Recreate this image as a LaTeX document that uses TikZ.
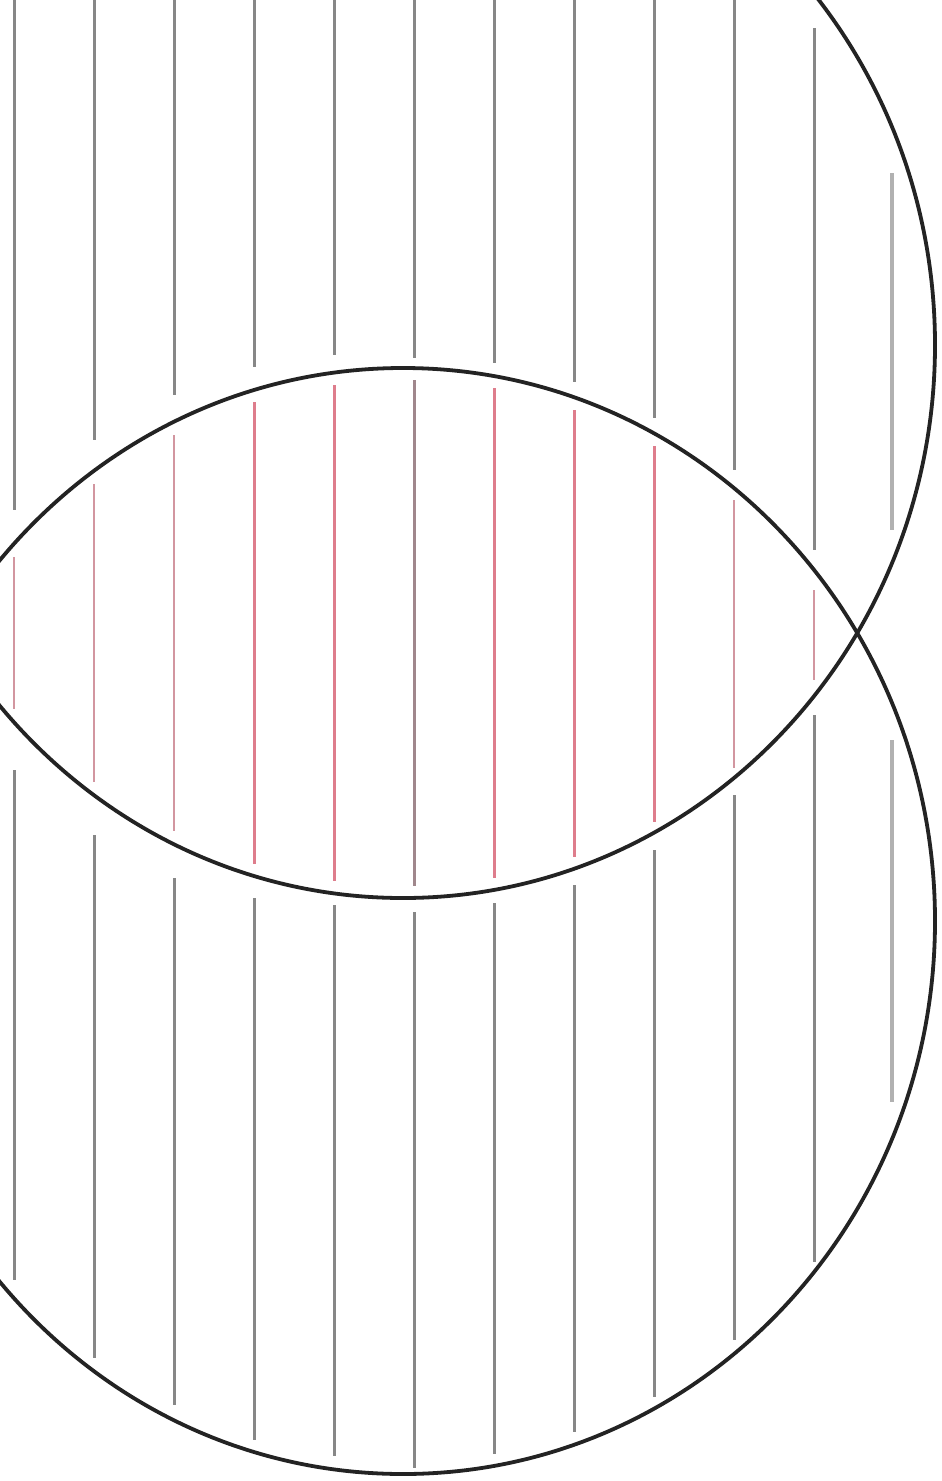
\documentclass[tikz,border=0pt]{standalone}
\definecolor{hatchgray}{RGB}{135,135,135}
\definecolor{lensred}{RGB}{222,125,140}
\definecolor{lenspale}{RGB}{210,150,160}
\definecolor{lensmid}{RGB}{160,135,140}
\definecolor{outlinecol}{RGB}{35,35,35}
\tikzset{
  hatch/.style={draw=hatchgray, line width=3pt},
  hatchwide/.style={draw=hatchgray!65, line width=4.5pt},
  lensline/.style={draw=lensred, line width=3pt},
  lenspaleline/.style={draw=lenspale, line width=2.8pt},
  lensmidline/.style={draw=lensmid, line width=3pt},
  outline/.style={draw=outlinecol, line width=3.8pt},
}
\begin{document}
\begin{tikzpicture}[x=1pt,y=-1pt]
\useasboundingbox (0,0) rectangle (942,1481);
\fill[white] (0,0) rectangle (942,1481);
\clip (0,0) rectangle (942,1481);
% gray hatching outside the lens
\foreach \x/\a/\b in {14/0/510, 94/0/440, 174/0/395, 254/0/367, 334/0/355, 414/0/358,
  494/0/363, 574/0/382, 654/0/418, 734/0/470, 814/28/550,
  14/770/1280, 94/835/1358, 174/878/1405, 254/898/1440, 334/905/1456, 414/912/1468,
  494/903/1454, 574/885/1432, 654/850/1397, 734/795/1340, 814/715/1262}
  \draw[hatch] (\x,\a) -- (\x,\b);
\foreach \a/\b in {173/530, 740/1102}
  \draw[hatchwide] (892,\a) -- (892,\b);
% hatching inside the lens
\foreach \x/\a/\b in {254/402/864, 334/385/881, 494/388/878, 574/410/857, 654/446/822}
  \draw[lensline] (\x,\a) -- (\x,\b);
\foreach \x/\a/\b in {14/557/709, 94/484/782, 174/435/831, 734/500/768, 814/590/680}
  \draw[lenspaleline] (\x,\a) -- (\x,\b);
\draw[lensmidline] (414,380) -- (414,886);
% the two overlapping ellipses
\draw[outline] (403,345) ellipse [x radius=532, y radius=553];
\draw[outline] (403,921) ellipse [x radius=532, y radius=553];
\end{tikzpicture}
\end{document}
